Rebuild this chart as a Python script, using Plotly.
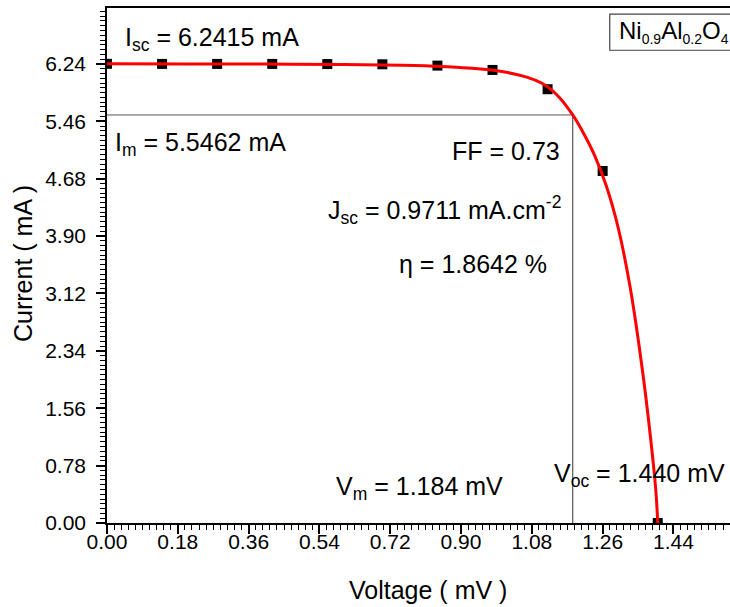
import plotly.graph_objects as go

# Measured I-V points
voltage_mV = [0.00, 0.14, 0.28, 0.42, 0.56, 0.70, 0.84, 0.98, 1.12, 1.26, 1.40]
current_mA = [6.2415, 6.240, 6.240, 6.240, 6.238, 6.235, 6.217, 6.158, 5.896, 4.785, 0.0]

# Fitted I-V curve (sampled)
fit_v = [0.00, 0.20, 0.40, 0.60, 0.75, 0.85, 0.95, 1.00, 1.03, 1.06, 1.09, 1.12, 1.15, 1.184,
         1.21, 1.24, 1.27, 1.30, 1.33, 1.36, 1.38, 1.395, 1.400]
fit_i = [6.2415, 6.240, 6.238, 6.233, 6.222, 6.205, 6.170, 6.140, 6.110, 6.070, 6.015, 5.930,
         5.785, 5.5462, 5.31, 4.99, 4.57, 4.00, 3.20, 2.12, 1.24, 0.45, 0.0]

# Maximum power point
V_m = 1.184
I_m = 5.5462

x_ticks = [0.00, 0.18, 0.36, 0.54, 0.72, 0.90, 1.08, 1.26, 1.44]
y_ticks = [0.00, 0.78, 1.56, 2.34, 3.12, 3.90, 4.68, 5.46, 6.24]

FONT = "Liberation Sans, Arial, sans-serif"

fig = go.Figure()

# Max-power rectangle guide lines
fig.add_trace(go.Scatter(x=[0, V_m], y=[I_m, I_m], mode="lines",
                         line=dict(color="#555555", width=1), hoverinfo="skip"))
fig.add_trace(go.Scatter(x=[V_m, V_m], y=[0, I_m], mode="lines",
                         line=dict(color="#333333", width=1), hoverinfo="skip"))

fig.add_trace(go.Scatter(x=voltage_mV, y=current_mA, mode="markers",
                         marker=dict(symbol="square", size=10, color="black",
                                     line=dict(width=0))))
fig.add_trace(go.Scatter(x=fit_v, y=fit_i, mode="lines", line_shape="spline",
                         line=dict(color="#ff0000", width=3, smoothing=1.0)))

axis_common = dict(
    showgrid=False, zeroline=False, showline=True, linecolor="black", linewidth=1.5,
    ticks="outside", ticklen=9, tickwidth=1.5, tickcolor="black",
    tickfont=dict(family=FONT, size=21, color="black"),
)

fig.update_xaxes(range=[0, 1.5837], tickvals=x_ticks, tickformat=".2f", mirror=True,
                 ticklabelstandoff=-10,
                 minor=dict(dtick=0.018, tick0=0, ticklen=5, tickwidth=1.2,
                            tickcolor="black", ticks="outside"),
                 **axis_common)
fig.update_yaxes(range=[0, 7.0], tickvals=y_ticks, tickformat=".2f", mirror=False,
                 ticklabelstandoff=6,
                 minor=dict(dtick=0.065, tick0=0, ticklen=5, tickwidth=1.2,
                            tickcolor="black", ticks="outside"),
                 **axis_common)

ann_font = dict(family=FONT, size=25, color="black")


def note(text, x, y, xanchor="left"):
    fig.add_annotation(text=text, x=x, y=y, xref="x", yref="y", showarrow=False,
                       xanchor=xanchor, yanchor="middle", font=ann_font,
                       borderpad=0, borderwidth=0)


note("I<sub>sc</sub> = 6.2415 mA", 0.047, 6.58)
note("I<sub>m</sub> = 5.5462 mA", 0.020, 5.15)
note("FF = 0.73", 1.152, 5.05, "right")
note("J<sub>sc</sub> = 0.9711 mA.cm<sup>-2</sup>", 1.154, 4.26, "right")
note("η = 1.8642 %", 1.118, 3.52, "right")
note("V<sub>m</sub> = 1.184 mV", 0.582, 0.47)
note("V<sub>oc</sub> = 1.440 mV", 1.137, 0.65)

# Sample label box
fig.add_shape(type="rect", xref="paper", yref="paper", x0=0.807, x1=1.05, y0=0.918, y1=0.988,
              line=dict(color="#444444", width=1.2), fillcolor="rgba(0,0,0,0)")
sub = '<sub><span style="font-size:14px">{}</span></sub>'
fig.add_annotation(text="Ni" + sub.format("0.9") + "Al" + sub.format("0.2") + "O" + sub.format("4"),
                   xref="paper", yref="paper",
                   x=(619 - 107) / 623, y=0.953, xanchor="left", yanchor="middle",
                   showarrow=False, borderpad=0, borderwidth=0,
                   font=dict(family=FONT, size=24, color="black"))

# Axis titles
fig.add_annotation(text="Voltage ( mV )", xref="paper", yref="paper",
                   x=(428 - 107) / 623, y=-(590 - 523) / 515, xanchor="center", yanchor="middle",
                   showarrow=False, font=ann_font)
fig.add_annotation(text="Current ( mA )", xref="paper", yref="paper",
                   x=-(107 - 23) / 623, y=(523 - 264) / 515, xanchor="center", yanchor="middle",
                   textangle=-90, showarrow=False, font=ann_font)

fig.update_layout(
    width=730, height=607,
    margin=dict(l=107, r=0, t=8, b=84),
    paper_bgcolor="white", plot_bgcolor="white",
    showlegend=False,
)

fig.write_html("out.html")
